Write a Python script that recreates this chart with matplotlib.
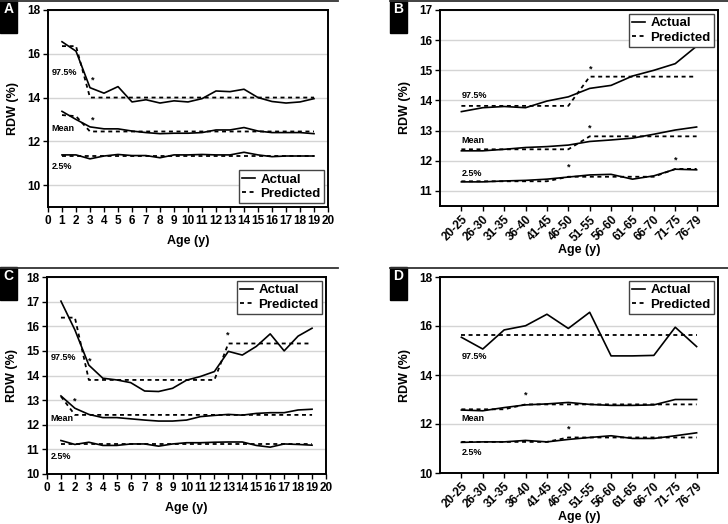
import numpy as np
import matplotlib
matplotlib.use("Agg")
import matplotlib.pyplot as plt
from matplotlib.lines import Line2D
from matplotlib.patches import Rectangle

plt.rcParams['font.family'] = ['Liberation Sans', 'DejaVu Sans']
plt.rcParams['font.weight'] = 'bold'
plt.rcParams['axes.labelweight'] = 'bold'

# x categories
age_child = [1, 2, 3, 4, 5, 6, 7, 8, 9, 10, 11, 12, 13, 14, 15, 16, 17, 18, 19]
age_adult = ["20-25", "26-30", "31-35", "36-40", "41-45", "46-50",
             "51-55", "56-60", "61-65", "66-70", "71-75", "76-79"]

# panel A
a_hi_act = [16.55, 16.12, 14.45, 14.2, 14.5, 13.8, 13.9, 13.75, 13.85, 13.8,
            13.95, 14.3, 14.27, 14.38, 14.0, 13.82, 13.75, 13.8, 13.95]
a_hi_pred = [16.35, 16.35, 14.0, 14.0, 14.0, 14.0, 14.0, 14.0, 14.0, 14.0,
             14.0, 14.0, 14.0, 14.0, 14.0, 14.0, 14.0, 14.0, 14.0]
a_mean_act = [13.37, 13.0, 12.66, 12.57, 12.57, 12.47, 12.4, 12.35, 12.37, 12.37,
              12.4, 12.52, 12.52, 12.63, 12.47, 12.4, 12.4, 12.4, 12.35]
a_mean_pred = [13.2, 13.15, 12.45, 12.45, 12.45, 12.45, 12.45, 12.45, 12.45, 12.45,
               12.45, 12.45, 12.45, 12.45, 12.45, 12.45, 12.45, 12.45, 12.45]
a_lo_act = [11.38, 11.38, 11.2, 11.33, 11.4, 11.35, 11.35, 11.25, 11.38, 11.38,
            11.4, 11.38, 11.38, 11.5, 11.38, 11.3, 11.33, 11.33, 11.33]
a_lo_pred = [11.35, 11.35, 11.35, 11.35, 11.35, 11.35, 11.35, 11.35, 11.35, 11.35,
             11.35, 11.35, 11.35, 11.35, 11.35, 11.35, 11.35, 11.35, 11.35]

# panel B
b_hi_act = [13.63, 13.76, 13.8, 13.76, 13.98, 14.12, 14.4, 14.5, 14.81, 15.0, 15.22, 15.8]
b_hi_pred = [13.82, 13.82, 13.82, 13.82, 13.82, 13.82, 14.79, 14.79, 14.79, 14.79, 14.79, 14.79]
b_mean_act = [12.33, 12.33, 12.38, 12.44, 12.47, 12.52, 12.64, 12.69, 12.75, 12.88, 13.02, 13.12]
b_mean_pred = [12.38, 12.38, 12.38, 12.38, 12.38, 12.38, 12.81, 12.81, 12.81, 12.81, 12.81, 12.81]
b_lo_act = [11.3, 11.3, 11.33, 11.35, 11.39, 11.46, 11.53, 11.55, 11.39, 11.5, 11.72, 11.7]
b_lo_pred = [11.32, 11.32, 11.32, 11.32, 11.32, 11.47, 11.47, 11.47, 11.47, 11.47, 11.73, 11.73]

# panel C
c_hi_act = [17.02, 15.85, 14.42, 13.89, 13.82, 13.71, 13.37, 13.35, 13.48, 13.81,
            13.96, 14.16, 14.98, 14.83, 15.18, 15.69, 15.0, 15.6, 15.92]
c_hi_pred = [16.35, 16.35, 13.82, 13.82, 13.82, 13.82, 13.82, 13.82, 13.82, 13.82,
             13.82, 13.82, 15.3, 15.3, 15.3, 15.3, 15.3, 15.3, 15.3]
c_mean_act = [13.17, 12.67, 12.42, 12.29, 12.29, 12.24, 12.19, 12.15, 12.15, 12.19,
              12.33, 12.38, 12.42, 12.39, 12.46, 12.49, 12.49, 12.6, 12.63]
c_mean_pred = [13.15, 12.4, 12.4, 12.4, 12.4, 12.4, 12.4, 12.4, 12.4, 12.4,
               12.4, 12.4, 12.4, 12.4, 12.4, 12.4, 12.4, 12.4, 12.4]
c_lo_act = [11.36, 11.2, 11.29, 11.16, 11.16, 11.22, 11.22, 11.13, 11.22, 11.27,
            11.27, 11.29, 11.3, 11.3, 11.16, 11.09, 11.22, 11.2, 11.17]
c_lo_pred = [11.2, 11.2, 11.2, 11.2, 11.2, 11.2, 11.2, 11.2, 11.2, 11.2,
             11.2, 11.2, 11.2, 11.2, 11.2, 11.2, 11.2, 11.2, 11.2]

# panel D
d_hi_act = [15.54, 15.06, 15.84, 16.01, 16.48, 15.9, 16.56, 14.78, 14.78, 14.8, 15.95, 15.16]
d_hi_pred = [15.65, 15.65, 15.65, 15.65, 15.65, 15.65, 15.65, 15.65, 15.65, 15.65, 15.65, 15.65]
d_mean_act = [12.57, 12.54, 12.67, 12.78, 12.82, 12.88, 12.8, 12.76, 12.76, 12.78, 13.0, 13.0]
d_mean_pred = [12.6, 12.6, 12.6, 12.8, 12.8, 12.8, 12.8, 12.8, 12.8, 12.8, 12.8, 12.8]
d_lo_act = [11.25, 11.27, 11.27, 11.33, 11.27, 11.37, 11.45, 11.52, 11.41, 11.41, 11.52, 11.64]
d_lo_pred = [11.27, 11.27, 11.27, 11.27, 11.27, 11.45, 11.45, 11.45, 11.45, 11.45, 11.45, 11.45]

W, H = 728, 524
fig = plt.figure(figsize=(7.28, 5.24), dpi=100)


def box(l, t, r, b):
    return [l / W, 1 - b / H, (r - l) / W, (b - t) / H]


panels = [
    dict(tag="A", rect=box(48, 10, 328, 207), child=True,
         series=[(a_hi_act, a_hi_pred), (a_mean_act, a_mean_pred), (a_lo_act, a_lo_pred)],
         ylim=(9, 18), yticks=[10, 12, 14, 16, 18], leg="lower right",
         labels=[(0.25, 15.15), (0.25, 12.6), (0.25, 10.85)],
         stars=[(3.16, 14.82), (3.16, 12.97)], tagbox=(0, 0), rule=(0, 338, 0)),
    dict(tag="B", rect=box(440, 10, 718, 206), child=False,
         series=[(b_hi_act, b_hi_pred), (b_mean_act, b_mean_pred), (b_lo_act, b_lo_pred)],
         ylim=(10.5, 17), yticks=[11, 12, 13, 14, 15, 16, 17], leg="upper right",
         labels=[(0, 14.15), (0, 12.66), (0, 11.58)],
         stars=[(6.05, 15.05), (6.0, 13.1), (5.0, 11.78), (10.0, 12.02)],
         tagbox=(390, 0), rule=(390, 728, 0)),
    dict(tag="C", rect=box(47, 277, 326, 474), child=True,
         series=[(c_hi_act, c_hi_pred), (c_mean_act, c_mean_pred), (c_lo_act, c_lo_pred)],
         ylim=(10, 18), yticks=[10, 11, 12, 13, 14, 15, 16, 17, 18], leg="upper right",
         labels=[(0.24, 14.73), (0.24, 12.25), (0.24, 10.7)],
         stars=[(3.09, 14.6), (2.02, 12.97), (12.97, 15.65)],
         tagbox=(0, 267), rule=(0, 338, 267)),
    dict(tag="D", rect=box(440, 277, 718, 473), child=False,
         series=[(d_hi_act, d_hi_pred), (d_mean_act, d_mean_pred), (d_lo_act, d_lo_pred)],
         ylim=(10, 18), yticks=[10, 12, 14, 16, 18], leg="upper right",
         labels=[(0, 14.74), (0, 12.23), (0, 10.82)],
         stars=[(3.0, 13.17), (5.0, 11.8)],
         tagbox=(390, 267), rule=(390, 728, 267)),
]

for p in panels:
    ax = fig.add_axes(p["rect"])
    if p["child"]:
        x = age_child
    else:
        x = np.arange(len(age_adult))

    for i, (act, pred) in enumerate(p["series"]):
        ax.plot(x, act, color="black", lw=1.2,
                label="Actual" if i == 0 else None)
        ax.plot(x, pred, color="black", lw=1.3, ls=(0, (2.2, 2.0)),
                label="Predicted" if i == 0 else None)

    # percentile labels and significance marks
    for txt, (tx, ty) in zip(["97.5%", "Mean", "2.5%"], p["labels"]):
        ax.text(tx, ty, txt, fontsize=6.5, ha="left", va="center")
    for sx, sy in p["stars"]:
        ax.text(sx, sy, "*", fontsize=6.5, ha="center", va="center")

    ax.set_ylim(*p["ylim"])
    ax.set_yticks(p["yticks"])
    if p["child"]:
        ax.set_xlim(0, 20)
        ax.set_xticks(range(0, 21))
        ax.set_xlabel("Age (y)", fontsize=9, labelpad=6)
    else:
        ax.set_xlim(-1, 12)
        ax.set_xticks(x)
        ax.set_xticklabels(age_adult, rotation=45, ha="right",
                           rotation_mode="anchor")
        ax.set_xlabel("Age (y)", fontsize=9, labelpad=0)
    ax.set_ylabel("RDW (%)", fontsize=9, labelpad=6)

    ax.tick_params(labelsize=8.5, length=3.5, width=1, direction="out", pad=2)
    ax.yaxis.grid(True, color="#d4d4d4", lw=1)
    ax.set_axisbelow(True)
    for s in ax.spines.values():
        s.set_linewidth(1.4)

    leg = ax.legend(loc=p["leg"], fontsize=9.5, handlelength=1.0,
                    handletextpad=0.4, borderpad=0.25, labelspacing=0.15,
                    borderaxespad=0.3, fancybox=False, framealpha=1)
    leg.get_frame().set_edgecolor("#444444")
    leg.get_frame().set_linewidth(1)

    # panel letter box and top rule
    bx, by = p["tagbox"]
    fig.add_artist(Rectangle((bx / W, 1 - (by + 33) / H), 17 / W, 33 / H,
                             transform=fig.transFigure, color="black"))
    fig.text((bx + 8.5) / W, 1 - (by + 2) / H, p["tag"], color="white",
             fontsize=10, ha="center", va="top")
    r0, r1, ry = p["rule"]
    fig.add_artist(Line2D([r0 / W, r1 / W], [1 - (ry + 0.5) / H] * 2,
                          transform=fig.transFigure, color="#333333", lw=1.3))

fig.savefig("out.png", dpi=100)
